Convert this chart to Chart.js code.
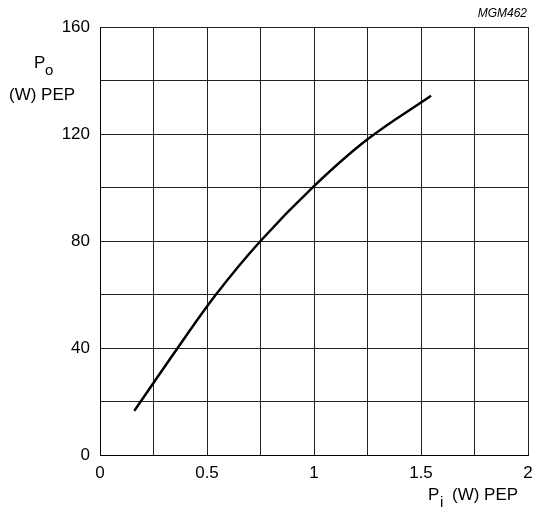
<!DOCTYPE html>
<html>
<head>
<meta charset="utf-8">
<script src="https://cdn.jsdelivr.net/npm/chart.js@4"></script>
<style>
  html, body { margin: 0; padding: 0; background: #fff; }
  #wrap { width: 533px; height: 515px; position: relative; }
</style>
</head>
<body>
<div id="wrap"><canvas id="po_chart"></canvas></div>
<script>
// input power Pi (W) PEP vs output power Po (W) PEP
const piValues = [0.16, 0.363, 0.542, 0.75, 1.0, 1.25, 1.547];
const poValues = [16.5, 40, 60, 80, 100.5, 118, 134.3];
const xTickLabels = [0, 0.5, 1, 1.5, 2];
const yTickLabels = [0, 40, 80, 120, 160];

const FONT = '"Liberation Sans", Arial, sans-serif';

const labelsPlugin = {
  id: 'labels',
  afterDraw(chart) {
    const ctx = chart.ctx;
    ctx.save();
    ctx.fillStyle = '#000';
    ctx.textBaseline = 'alphabetic';
    // y axis title
    ctx.font = '17px ' + FONT;
    ctx.textAlign = 'left';
    ctx.fillText('P', 34, 68);
    ctx.font = '15px ' + FONT;
    ctx.fillText('o', 45, 75);
    ctx.font = '17px ' + FONT;
    ctx.fillText('(W) PEP', 9, 100);
    // x axis title
    ctx.fillText('P', 428, 500);
    ctx.font = '15px ' + FONT;
    ctx.fillText('i', 440, 507);
    ctx.font = '17px ' + FONT;
    ctx.fillText('(W) PEP', 452, 500);
    // figure code
    ctx.font = 'italic 12px ' + FONT;
    ctx.textAlign = 'right';
    ctx.fillText('MGM462', 527, 17);
    ctx.restore();
  }
};

document.addEventListener('DOMContentLoaded', function() {
  const ctx = document.getElementById('po_chart').getContext('2d');

  const poChart = new Chart(ctx, {
    type: 'line',
    data: {
      datasets: [
        {
          label: 'Po',
          data: piValues.map((x, i) => ({ x: x, y: poValues[i] })),
          borderColor: '#000',
          borderWidth: 2.5,
          pointRadius: 0,
          fill: false,
          tension: 0.4
        }
      ]
    },
    options: {
      responsive: true,
      maintainAspectRatio: false,
      animation: false,
      layout: { padding: { top: 27, right: 5, left: 0, bottom: 0 } },
      scales: {
        x: {
          type: 'linear',
          min: 0,
          max: 2,
          afterFit: s => { s.height = 60; s.paddingRight = 0; s.paddingLeft = 0; },
          ticks: {
            stepSize: 0.25,
            autoSkip: false,
            maxRotation: 0,
            padding: 8,
            color: '#000',
            font: { family: FONT, size: 17 },
            callback: v => xTickLabels.includes(v) ? String(v) : ''
          },
          grid: { color: '#222', lineWidth: 1, drawTicks: false },
          border: { color: '#000', width: 1 }
        },
        y: {
          min: 0,
          max: 160,
          afterFit: s => { s.width = 100; s.paddingTop = 0; s.paddingBottom = 0; },
          ticks: {
            stepSize: 20,
            autoSkip: false,
            padding: 10,
            color: '#000',
            font: { family: FONT, size: 17 },
            callback: v => yTickLabels.includes(v) ? String(v) : ''
          },
          grid: { color: '#222', lineWidth: 1, drawTicks: false },
          border: { color: '#000', width: 1 }
        }
      },
      plugins: {
        legend: { display: false },
        tooltip: { enabled: false }
      }
    },
    plugins: [labelsPlugin]
  });
});
</script>
</body>
</html>
